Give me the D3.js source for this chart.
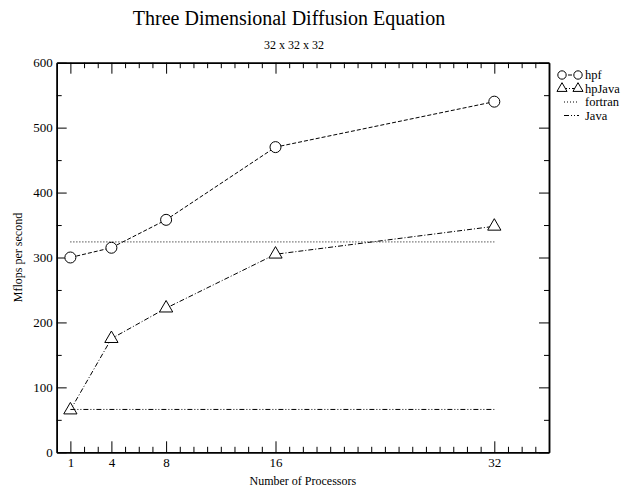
<!DOCTYPE html>
<html>
<head>
<meta charset="utf-8">
<script src="https://cdn.jsdelivr.net/npm/d3@7"></script>
<style>
  body { margin: 0; background: #fff; }
  text { font-family: "Liberation Serif", "Times New Roman", serif; fill: #000; }
</style>
</head>
<body>
<div id="chart"></div>
<script>
// data
var processors = [1, 4, 8, 16, 32];
var hpf = [300, 315, 358, 470, 540];
var hpJava = [65, 175, 222, 305, 348];
var fortran = [324, 324];
var java = [66, 66];
var flatX = [1, 32];
var xMajor = [1, 4, 8, 16, 32];
var yMajor = [0, 100, 200, 300, 400, 500, 600];

var margin = { top: 62.7, right: 90, bottom: 40.7, left: 56.7 },
  width = 639 - margin.left - margin.right,
  height = 493 - margin.top - margin.bottom;

var svg = d3
  .select("#chart")
  .append("svg")
  .attr("width", 639)
  .attr("height", 493);

var g = svg
  .append("g")
  .attr("transform", "translate(" + margin.left + "," + margin.top + ")");

var x = d3.scaleLinear().domain([0, 36]).range([0, width]);
var y = d3.scaleLinear().domain([0, 600]).range([height, 0]);

var xMinor = d3.range(2, 36).filter(function (d) {
  return xMajor.indexOf(d) < 0;
});
var yMinor = d3.range(50, 600, 100);

// title
svg
  .append("text")
  .attr("x", 289)
  .attr("y", 25)
  .attr("text-anchor", "middle")
  .style("font-size", "20px")
  .text("Three Dimensional Diffusion Equation");

svg
  .append("text")
  .attr("x", 294)
  .attr("y", 49)
  .attr("text-anchor", "middle")
  .style("font-size", "12px")
  .text("32 x 32 x 32");

// axes (ticks point inward)
function styleAxis(sel) {
  sel.selectAll("path").attr("stroke", "#000").attr("stroke-width", 1.5);
  sel.selectAll("line").attr("stroke", "#000").attr("stroke-width", 1);
  sel.selectAll("text").style("font-size", "13px").attr("font-family", null);
}

g.append("g")
  .attr("transform", "translate(0," + height + ")")
  .call(d3.axisBottom(x).tickValues(xMajor).tickSizeInner(-11).tickSizeOuter(0).tickPadding(5))
  .call(styleAxis);
g.append("g")
  .attr("transform", "translate(0," + height + ")")
  .call(d3.axisBottom(x).tickValues(xMinor).tickSizeInner(-5.5).tickSizeOuter(0).tickFormat(""))
  .call(styleAxis);
g.append("g")
  .call(d3.axisTop(x).tickValues(xMajor).tickSizeInner(-11).tickSizeOuter(0).tickFormat(""))
  .call(styleAxis);
g.append("g")
  .call(d3.axisTop(x).tickValues(xMinor).tickSizeInner(-5.5).tickSizeOuter(0).tickFormat(""))
  .call(styleAxis);

g.append("g")
  .call(d3.axisLeft(y).tickValues(yMajor).tickSizeInner(-10).tickSizeOuter(0).tickPadding(4))
  .call(styleAxis);
g.append("g")
  .call(d3.axisLeft(y).tickValues(yMinor).tickSizeInner(-5).tickSizeOuter(0).tickFormat(""))
  .call(styleAxis);
g.append("g")
  .attr("transform", "translate(" + width + ",0)")
  .call(d3.axisRight(y).tickValues(yMajor).tickSizeInner(-10).tickSizeOuter(0).tickFormat(""))
  .call(styleAxis);
g.append("g")
  .attr("transform", "translate(" + width + ",0)")
  .call(d3.axisRight(y).tickValues(yMinor).tickSizeInner(-5).tickSizeOuter(0).tickFormat(""))
  .call(styleAxis);

// axis labels
svg
  .append("text")
  .attr("x", margin.left + width / 2)
  .attr("y", 485)
  .attr("text-anchor", "middle")
  .style("font-size", "12px")
  .text("Number of Processors");

svg
  .append("text")
  .attr("transform", "translate(22," + (margin.top + height / 2) + ") rotate(-90)")
  .attr("text-anchor", "middle")
  .style("font-size", "12px")
  .text("Mflops per second");

// series
var series = [
  { name: "hpf", xs: processors, ys: hpf, dash: "4,2", marker: "circle" },
  { name: "hpJava", xs: processors, ys: hpJava, dash: "5,2,1,2", marker: "triangle" },
  { name: "fortran", xs: flatX, ys: fortran, dash: "1,2", marker: null },
  { name: "Java", xs: flatX, ys: java, dash: "5,2,1,2,1,2", marker: null }
];

var line = d3
  .line()
  .x(function (d) { return x(d[0]); })
  .y(function (d) { return y(d[1]); });

function drawMarker(sel, type, size) {
  var sym = d3.symbol().type(type === "circle" ? d3.symbolCircle : d3.symbolTriangle);
  sel
    .append("path")
    .attr("d", sym.size(type === "circle" ? size : size * 0.8)())
    .attr("fill", "#fff")
    .attr("stroke", "#000")
    .attr("stroke-width", 1);
}

series.forEach(function (s) {
  var pts = s.xs.map(function (d, i) { return [d, s.ys[i]]; });
  g.append("path")
    .datum(pts)
    .attr("d", line)
    .attr("fill", "none")
    .attr("stroke", "#000")
    .attr("stroke-width", 1)
    .attr("stroke-dasharray", s.dash);
  if (s.marker) {
    pts.forEach(function (p) {
      var m = g.append("g").attr("transform", "translate(" + x(p[0]) + "," + y(p[1]) + ")");
      drawMarker(m, s.marker, 95);
    });
  }
});

// legend
var legend = svg
  .selectAll(".legend")
  .data(series)
  .enter()
  .append("g")
  .attr("class", "legend")
  .attr("transform", function (d, i) {
    return "translate(562," + (75 + i * 13.5) + ")";
  });

legend
  .append("line")
  .attr("x1", function (d) { return d.marker ? 0 : 2; })
  .attr("x2", 17)
  .attr("stroke", "#000")
  .attr("stroke-width", 1)
  .attr("stroke-dasharray", function (d) { return d.dash; });

legend.each(function (d) {
  if (!d.marker) return;
  var sel = d3.select(this);
  drawMarker(sel.append("g"), d.marker, 55);
  drawMarker(sel.append("g").attr("transform", "translate(16,0)"), d.marker, 55);
});

legend
  .append("text")
  .attr("x", 23)
  .attr("dy", "0.35em")
  .style("font-size", "12.5px")
  .text(function (d) { return d.name; });
</script>
</body>
</html>
